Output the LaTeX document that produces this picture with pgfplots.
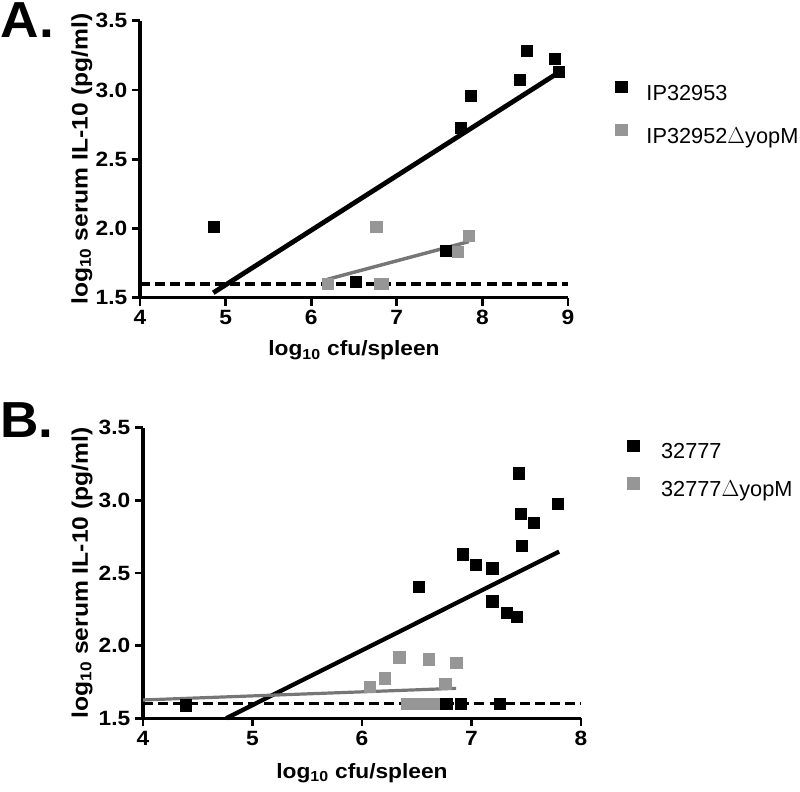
\documentclass[border=0pt]{standalone}
\usepackage{pgfplots}
\pgfplotsset{compat=1.18}
\usepackage{fontspec}
\setmainfont{Liberation Sans}[FakeStretch=1.1]
\newfontfamily\tickfont{Liberation Sans}[FakeStretch=1.1]
\newfontfamily\legfont{Liberation Sans}
\newfontfamily\bigfont{Liberation Sans}[FakeStretch=1.05]
\definecolor{mgray}{RGB}{150,150,150}
\definecolor{lgray}{RGB}{118,118,118}
\tikzset{letter/.style={anchor=base west, font=\bigfont\bfseries\fontsize{38pt}{40pt}\selectfont, inner sep=0pt, text height=27.3pt, text depth=0pt}}
\pgfplotsset{
  panel/.style={
    scale only axis,
    axis x line*=bottom,
    axis y line*=left,
    axis line style={line width=2.3pt, black},
    tick align=outside,
    major tick length=6pt,
    tick style={line width=2pt, black},
    ymin=1.5, ymax=3.5,
    ytick={1.5,2,2.5,3,3.5},
    /pgf/number format/.cd, fixed, fixed zerofill, precision=1, assume math mode=true,
    /pgfplots/.cd,
    xticklabel style={font=\tickfont\bfseries\fontsize{15.5pt}{17pt}\selectfont, /pgf/number format/precision=0, /pgf/number format/fixed zerofill=false},
    yticklabel style={font=\tickfont\bfseries\fontsize{15.5pt}{17pt}\selectfont},
    xlabel style={font=\bfseries\fontsize{15.5pt}{17pt}\selectfont},
    ylabel style={font=\bfseries\fontsize{16.8pt}{18pt}\selectfont},
    clip=false,
    legend cell align=left,
  },
  blk/.style={only marks, mark=square*, mark size=4.2pt, black, mark options={fill=black, draw=none}},
  gry/.style={only marks, mark=square*, mark size=4.2pt, mgray, mark options={fill=mgray, draw=none}},
  leg/.style={legend style={draw=none, fill=none, anchor=north west,
    font=\legfont\fontsize{16.3pt}{18pt}\selectfont, inner sep=0pt, column sep=0pt,
    nodes={inner sep=0pt, text height=12pt, text depth=3.5pt}}},
}
\begin{document}
\begin{tikzpicture}
\path[use as bounding box] (0pt,0pt) rectangle (600pt,-594pt);
\node[letter] at (0.3pt,-28.5pt) {A.};
\node[letter] at (0pt,-327.8pt) {B.};
% Panel A
\begin{axis}[panel, leg,
  at={(105pt,-223.3pt)}, anchor=origin,
  width=321pt, height=207.75pt,
  xmin=4, xmax=9, xtick={4,5,6,7,8,9},
  xlabel={log\textsubscript{10} cfu/spleen},
  ylabel={log\textsubscript{10} serum IL-10 (pg/ml)},
  xlabel style={at={(axis description cs:0.5,-0.19)}, anchor=center},
  ylabel style={at={(axis description cs:-0.136,0.5)}, anchor=center, rotate=0},
  legend style={at={(axis description cs:1.1098,0.784)}, row sep=14.3pt},
]
\addplot[black, line width=2.6pt, dashed, dash pattern=on 7.5pt off 3.8pt, forget plot] coordinates {(4,1.6) (9,1.6)};
\addplot[blk, forget plot] coordinates {
(4.86,2.01) (8.52,3.285) (8.85,3.227) (8.89,3.13) (8.44,3.075)
(7.86,2.96) (7.75,2.73) (7.57,1.84) (6.52,1.615)};
\addplot[gry, forget plot] coordinates {
(6.76,2.01) (7.84,1.95) (7.71,1.83) (6.19,1.60) (6.80,1.60) (6.84,1.60)};
\addplot[black, line width=3.6pt, forget plot] coordinates {(4.856,1.536) (8.89,3.126)};
\addplot[lgray, line width=2.6pt, forget plot] coordinates {(6.19,1.633) (7.84,1.905)};
\addlegendimage{legend image code/.code={\fill[black] (0pt,1.5pt) rectangle (8.5pt,10pt);}}
\addlegendentry{\hspace{14.5pt}IP32953}
\addlegendimage{legend image code/.code={\fill[mgray] (0pt,1.5pt) rectangle (8.5pt,10pt);}}
\addlegendentry{\hspace{14.5pt}IP32952$\Delta$yopM}
\end{axis}
% Panel B
\begin{axis}[panel, leg,
  at={(107.25pt,-538.7pt)}, anchor=origin,
  width=328.5pt, height=217.95pt,
  xmin=4, xmax=8, xtick={4,5,6,7,8},
  xlabel={log\textsubscript{10} cfu/spleen},
  ylabel={log\textsubscript{10} serum IL-10 (pg/ml)},
  xlabel style={at={(axis description cs:0.5,-0.188)}, anchor=center},
  ylabel style={at={(axis description cs:-0.139,0.5)}, anchor=center, rotate=0},
  legend style={at={(axis description cs:1.105,0.960)}, row sep=10.4pt},
]
\addplot[black, line width=2.6pt, dashed, dash pattern=on 7.5pt off 3.8pt, forget plot] coordinates {(4,1.6) (8,1.6)};
\addplot[gry, forget plot] coordinates {
(6.34,1.92) (6.61,1.906) (6.86,1.883) (6.21,1.775) (6.07,1.718) (6.76,1.74)
(6.41,1.6) (6.48,1.6) (6.55,1.6) (6.62,1.6) (6.67,1.6)};
\addplot[blk, forget plot] coordinates {
(7.43,3.186) (7.79,2.975) (7.45,2.906) (7.57,2.844) (7.46,2.686) (6.92,2.629)
(7.04,2.555) (7.19,2.532) (6.52,2.406) (7.19,2.305) (7.32,2.225) (7.41,2.197)
(4.39,1.59) (6.77,1.6) (6.90,1.6) (7.26,1.6)};
\addplot[black, line width=3.2pt, forget plot] coordinates {(4.76,1.5) (7.80,2.647)};
\addplot[lgray, line width=2.4pt, forget plot] coordinates {(4,1.626) (6.86,1.706)};
\addlegendimage{legend image code/.code={\fill[black] (0pt,1.5pt) rectangle (8.5pt,10pt);}}
\addlegendentry{\hspace{16.5pt}32777}
\addlegendimage{legend image code/.code={\fill[mgray] (0pt,1.5pt) rectangle (8.5pt,10pt);}}
\addlegendentry{\hspace{16.5pt}32777$\Delta$yopM}
\end{axis}
\end{tikzpicture}
\end{document}
